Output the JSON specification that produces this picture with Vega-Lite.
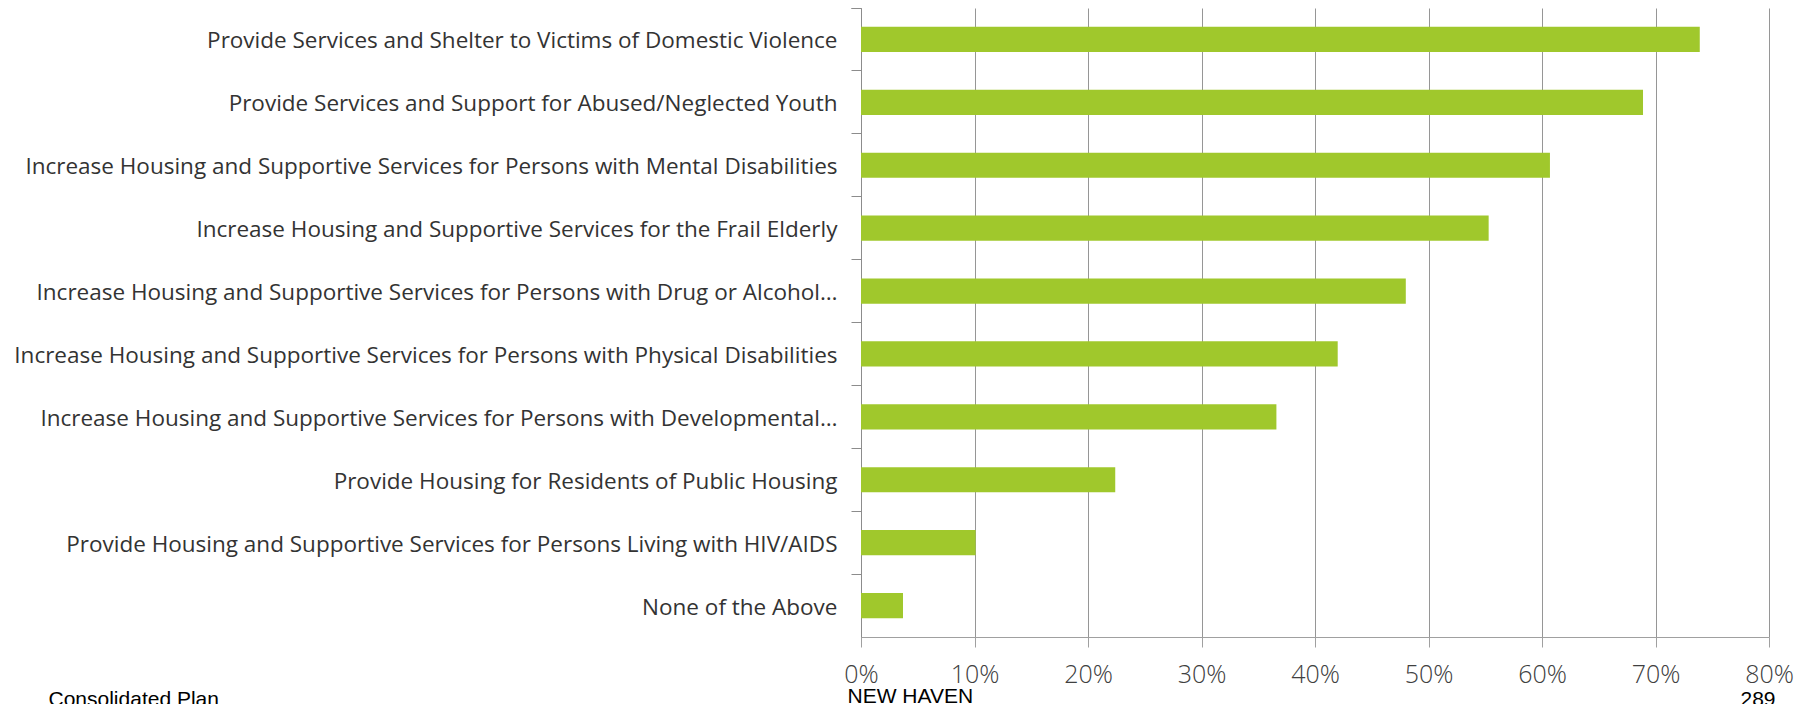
{
  "$schema": "https://vega.github.io/schema/vega-lite/v6.json",
  "width": 908,
  "height": 629,
  "autosize": {"type": "none"},
  "padding": {"left": 861, "top": 8, "right": 45, "bottom": 67},
  "background": "#ffffff",
  "config": {"view": {"stroke": null}},
  "data": {
    "values": [
      {"category": "Provide Services and Shelter to Victims of Domestic Violence", "pct": 73.9},
      {"category": "Provide Services and Support for Abused/Neglected Youth", "pct": 68.9},
      {"category": "Increase Housing and Supportive Services for Persons with Mental Disabilities", "pct": 60.7},
      {"category": "Increase Housing and Supportive Services for the Frail Elderly", "pct": 55.3},
      {"category": "Increase Housing and Supportive Services for Persons with Drug or Alcohol…", "pct": 48.0},
      {"category": "Increase Housing and Supportive Services for Persons with Physical Disabilities", "pct": 42.0},
      {"category": "Increase Housing and Supportive Services for Persons with Developmental…", "pct": 36.6},
      {"category": "Provide Housing for Residents of Public Housing", "pct": 22.4},
      {"category": "Provide Housing and Supportive Services for Persons Living with HIV/AIDS", "pct": 10.1},
      {"category": "None of the Above", "pct": 3.7}
    ]
  },
  "layer": [
    {
      "mark": {"type": "bar", "color": "#a0c82c", "height": {"band": 0.4}},
      "encoding": {
        "y": {
          "field": "category",
          "type": "nominal",
          "sort": null,
          "scale": {"paddingInner": 0, "paddingOuter": 0},
          "axis": {
            "bandPosition": 0,
            "tickExtra": true,
            "labelOffset": 2,
            "domainColor": "#8c8c8c",
            "tickColor": "#8c8c8c",
            "tickSize": 10,
            "labelFont": "Open Sans",
            "labelFontSize": 22.5,
            "labelColor": "#333333",
            "labelPadding": 14,
            "labelLimit": 0,
            "grid": false,
            "title": "Consolidated Plan",
            "titleAngle": 0,
            "titleX": -813,
            "titleY": 697,
            "titleAlign": "left",
            "titleBaseline": "alphabetic",
            "titleFont": "Liberation Sans",
            "titleFontSize": 21,
            "titleFontWeight": "normal",
            "titleColor": "#000000"
          }
        },
        "x": {
          "field": "pct",
          "type": "quantitative",
          "scale": {"domain": [0, 80], "nice": false},
          "axis": {
            "values": [0, 10, 20, 30, 40, 50, 60, 70, 80],
            "labelExpr": "datum.value + '%'",
            "grid": true,
            "gridColor": "#969696",
            "gridWidth": 1,
            "domainColor": "#a0a0a0",
            "tickColor": "#a0a0a0",
            "tickSize": 10,
            "labelFont": "Open Sans",
            "labelFontSize": 25,
            "labelFontWeight": 300,
            "labelColor": "#404040",
            "labelPadding": 15,
            "labelFlush": false,
            "title": "NEW HAVEN",
            "titleAnchor": "start",
            "titleAlign": "left",
            "titleBaseline": "alphabetic",
            "titleX": -14,
            "titleY": 65,
            "titleFont": "Liberation Sans",
            "titleFontSize": 21,
            "titleFontWeight": "normal",
            "titleColor": "#000000"
          }
        }
      }
    },
    {
      "mark": {"type": "bar", "opacity": 0},
      "encoding": {
        "y": {
          "field": "category",
          "type": "nominal",
          "sort": null,
          "axis": {
            "orient": "right",
            "labels": false,
            "ticks": false,
            "domain": false,
            "grid": false,
            "title": "289",
            "titleAngle": 0,
            "titleX": -29,
            "titleY": 697,
            "titleAlign": "left",
            "titleBaseline": "alphabetic",
            "titleFont": "Liberation Sans",
            "titleFontSize": 21,
            "titleFontWeight": "normal",
            "titleColor": "#000000"
          }
        },
        "x": {"field": "pct", "type": "quantitative"}
      }
    }
  ],
  "resolve": {"axis": {"y": "independent"}}
}
